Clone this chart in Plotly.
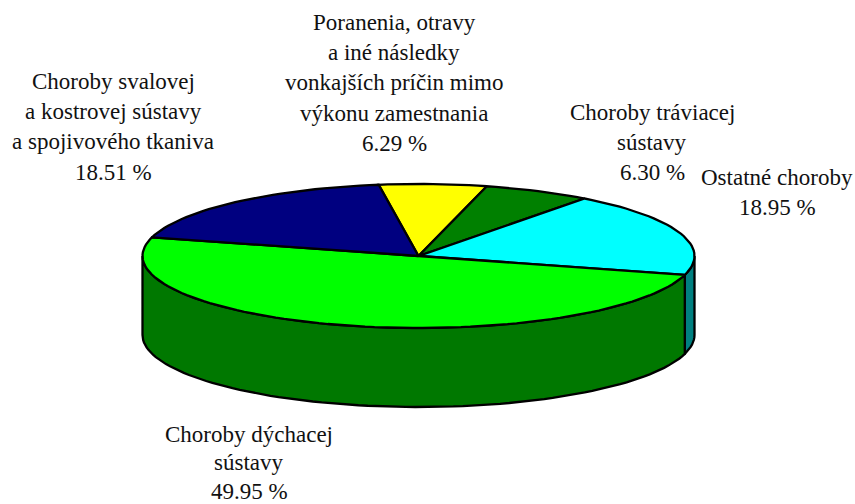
import numpy as np
import plotly.graph_objects as go

categories = ["Poranenia", "Choroby tráviacej", "Ostatné choroby", "Choroby dýchacej", "Choroby svalovej"]
values = [6.29, 6.30, 18.95, 49.95, 18.51]
top_colors = ["#FFFF00", "#008000", "#00FFFF", "#00FF00", "#000080"]
side_colors = ["#808000", "#004000", "#008080", "#007800", "#000040"]

label_lines = [
    ["Poranenia, otravy", "a iné následky", "vonkajších príčin mimo", "výkonu zamestnania", "6.29 %"],
    ["Choroby tráviacej", "sústavy", "6.30 %"],
    ["Ostatné choroby", "18.95 %"],
    ["Choroby dýchacej", "sústavy", "49.95 %"],
    ["Choroby svalovej", "a kostrovej sústavy", "a spojivového tkaniva", "18.51 %"],
]
label_x = [394, 652, 777, 249, 113]
label_y = [22, 112, 177, 434, 81]
label_gap = [30.4, 30.4, 30.4, 28.5, 30.4]

CX, CY, RX, RY, DEPTH, START = 418.5, 256, 276, 72, 79, -8.3


def pt(theta_deg):
    t = np.radians(theta_deg)
    return CX + RX * np.sin(t), CY - RY * np.cos(t)


def arc(a, b):
    n = max(2, int(abs(b - a) / 2) + 2)
    return pt(np.linspace(a, b, n))


fig = go.Figure()


def poly(xs, ys, color):
    fig.add_trace(go.Scatter(
        x=list(xs), y=list(ys), mode="lines", fill="toself", fillcolor=color,
        line=dict(color="black", width=2.3), hoverinfo="skip", showlegend=False,
    ))


edges = START + np.concatenate([[0], np.cumsum(values)]) * 3.6

# outer wall: only the part of each slice facing the viewer
for i, c in enumerate(side_colors):
    a, b = max(edges[i], 90), min(edges[i + 1], 270)
    if a < b:
        x, y = arc(a, b)
        poly(np.r_[x, x[::-1], x[0]], np.r_[y, y[::-1] + DEPTH, y[0]], c)

# top faces
for i, c in enumerate(top_colors):
    x, y = arc(edges[i], edges[i + 1])
    poly(np.r_[CX, x, CX], np.r_[CY, y, CY], c)

for lines, lx, ly, gap in zip(label_lines, label_x, label_y, label_gap):
    for k, t in enumerate(lines):
        fig.add_annotation(x=lx, y=ly + k * gap, text=t, showarrow=False,
                           xanchor="center", yanchor="middle",
                           font=dict(family="Liberation Serif", size=23, color="#111111"))

fig.update_layout(
    width=855, height=504, autosize=False, paper_bgcolor="white", plot_bgcolor="white",
    margin=dict(l=0, r=0, t=0, b=0), showlegend=False,
    xaxis=dict(range=[0, 855], visible=False, fixedrange=True),
    yaxis=dict(range=[504, 0], visible=False, fixedrange=True),
)
fig.write_html("out.html", config={"displayModeBar": False},
               post_script="document.body.style.margin='0';")
